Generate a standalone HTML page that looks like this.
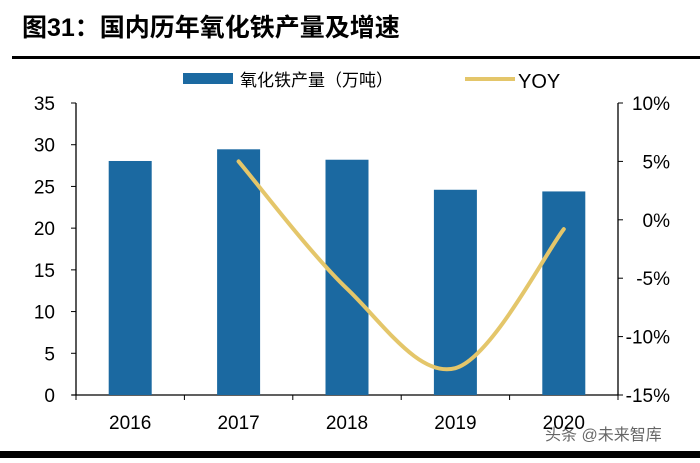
<!DOCTYPE html>
<html><head><meta charset="utf-8">
<style>
body{margin:0;background:#fff;}
svg text{font-family:"Liberation Sans Narrow","Liberation Sans","Noto Sans CJK SC",sans-serif;fill:#000;}
svg text.cjk{font-family:"Liberation Sans","Noto Sans CJK SC",sans-serif;}
</style></head>
<body>
<svg width="700" height="458" viewBox="0 0 700 458" xmlns="http://www.w3.org/2000/svg">
<text class="cjk" x="22" y="36" font-size="25" font-weight="bold">图31：国内历年氧化铁产量及增速</text>
<rect x="12" y="56" width="688" height="3" fill="#000"/>
<g>
<rect x="183" y="73" width="50" height="11" fill="#1b69a1"/>
<text class="cjk" x="240" y="86" font-size="17">氧化铁产量（万吨）</text>
<line x1="465" y1="79" x2="515" y2="79" stroke="#e4c66a" stroke-width="4"/>
<text x="518" y="88" font-size="20">YOY</text>
</g>
<g id="axes"></g>
<g id="bars"></g>
<g id="line"></g>
<text class="cjk" x="545" y="440" font-size="16" fill="#444" opacity="0.6">头条 @未来智库</text>
<rect x="0" y="451" width="700" height="7" fill="#000"/>
</svg>
<script>
const categories=["2016","2017","2018","2019","2020"];
const production=[28.05,29.45,28.2,24.6,24.4];
const yoy=[null,5.0,-5.9,-12.7,-0.8];
const leftTicks=[0,5,10,15,20,25,30,35];
const rightTicks=[10,5,0,-5,-10,-15];
const NS="http://www.w3.org/2000/svg";
const X0=76,X1=618,Y0=395,Y1=103;
const bw=(X1-X0)/categories.length;
const yL=v=>Y0-(v/35)*(Y0-Y1);
const yR=v=>Y0-((v+15)/25)*(Y0-Y1);
const xC=i=>X0+bw*(i+0.5);
function mk(tag,attrs,parent,txt){const e=document.createElementNS(NS,tag);for(const k in attrs)e.setAttribute(k,attrs[k]);if(txt!==undefined)e.textContent=txt;parent.appendChild(e);return e;}
const ax=document.getElementById('axes');
let e=mk('line',{x1:X0,y1:Y1,x2:X0,y2:Y0,stroke:'#000','stroke-width':1.3},ax);


e=mk('line',{x1:X1,y1:Y1,x2:X1,y2:Y0,stroke:'#000','stroke-width':1.3},ax);


e=mk('line',{x1:X0-4,y1:Y0,x2:X1,y2:Y0,stroke:'#000','stroke-width':1.3},ax);


leftTicks.forEach(v=>{const y=yL(v);
 mk('line',{x1:X0-5,y1:y,x2:X0,y2:y,stroke:'#000'},ax);
 e=mk('text',{x:X0-21,y:y+7,'font-size':19,'text-anchor':'end'},ax,String(v));
 
 });
rightTicks.forEach(v=>{const y=yR(v);
 mk('line',{x1:X1,y1:y,x2:X1+5,y2:y,stroke:'#000'},ax);
 e=mk('text',{x:X1+52,y:y+7,'font-size':19,'text-anchor':'end'},ax,v+'%');
 
 });
for(let i=0;i<=categories.length;i++){const x=X0+bw*i;mk('line',{x1:x,y1:Y0,x2:x,y2:Y0+5,stroke:'#000'},ax);}
categories.forEach((c,i)=>{e=mk('text',{x:xC(i),y:Y0+34,'font-size':19,'text-anchor':'middle'},ax,c);
 
 });
const bg=document.getElementById('bars');
production.forEach((v,i)=>{const b=mk('rect',{x:xC(i)-21.5,y:yL(v),width:43,height:Y0-yL(v),fill:'#1b69a1'},bg);
 
 });
const pts=[];yoy.forEach((v,i)=>{if(v!==null)pts.push([xC(i),yR(v)]);});
let d='M'+pts[0][0]+','+pts[0][1];
for(let i=0;i<pts.length-1;i++){const p0=pts[Math.max(0,i-1)],p1=pts[i],p2=pts[i+1],p3=pts[Math.min(pts.length-1,i+2)];
 const c1=[p1[0]+(p2[0]-p0[0])/6,p1[1]+(p2[1]-p0[1])/6],c2=[p2[0]-(p3[0]-p1[0])/6,p2[1]-(p3[1]-p1[1])/6];
 d+=` C${c1[0]},${c1[1]} ${c2[0]},${c2[1]} ${p2[0]},${p2[1]}`;}
const ln=mk('path',{d:d,fill:'none',stroke:'#e4c66a','stroke-width':4,'stroke-linecap':'round'},document.getElementById('line'));


</script>
</body></html>
